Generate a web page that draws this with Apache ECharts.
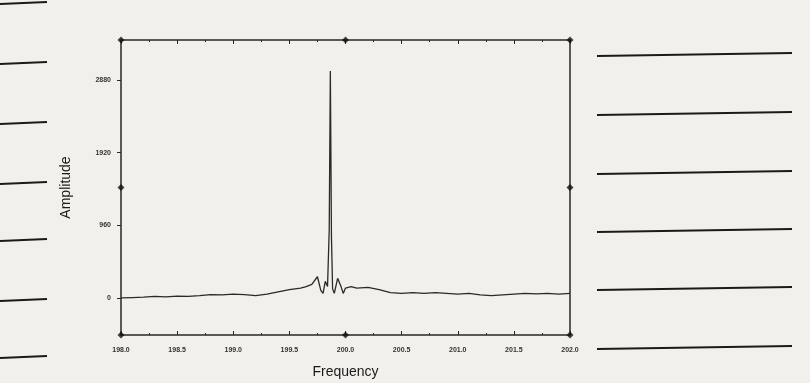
<!DOCTYPE html>
<html>
<head>
<meta charset="utf-8">
<script src="https://cdn.jsdelivr.net/npm/echarts@6/dist/echarts.min.js"></script>
<style>
html,body{margin:0;padding:0;background:#f1f0ed;}
#c{width:810px;height:383px;}
</style>
</head>
<body>
<div id="c"></div>
<script>
// ---- data ----
const frequency = [198.0,198.1,198.2,198.3,198.4,198.5,198.6,198.7,198.8,198.9,199.0,199.1,199.2,199.3,199.4,199.5,199.55,199.6,199.65,199.7,199.75,199.78,199.8,199.82,199.84,199.855,199.865,199.875,199.885,199.9,199.93,199.96,199.98,200.0,200.05,200.1,200.2,200.3,200.4,200.5,200.6,200.7,200.8,200.9,201.0,201.1,201.2,201.3,201.4,201.5,201.6,201.7,201.8,201.9,202.0];
const amplitude = [0,5,10,20,15,25,20,30,45,40,50,45,30,50,80,110,120,130,150,180,280,100,60,220,150,900,3000,800,120,60,260,150,60,130,150,130,140,110,70,60,70,60,70,60,50,60,40,30,40,50,60,55,60,50,60];
const xTicks = [198.0,198.5,199.0,199.5,200.0,200.5,201.0,201.5,202.0];
const yTicks = [0,960,1920,2880];
const xMin = 198, xMax = 202, yMin = -490, yMax = 3410;
const boxMarkers = [[xMin,yMin],[200,yMin],[xMax,yMin],[xMin,yMax],[200,yMax],[xMax,yMax],[xMin,(yMin+yMax)/2],[xMax,(yMin+yMax)/2]];

const chart = echarts.init(document.getElementById('c'));
const lineColor = '#2a2626';
const leftLines = [3,63,123,183,240,300,357];
const rightLines = [54,113,172,230,288,347];
const graphics = [];
leftLines.forEach(y => graphics.push({type:'line',shape:{x1:0,y1:y+1,x2:47,y2:y-1},style:{stroke:'#1a1a1a',lineWidth:2.2}}));
rightLines.forEach(y => graphics.push({type:'line',shape:{x1:597,y1:y+2,x2:792,y2:y-1},style:{stroke:'#1a1a1a',lineWidth:2.2}}));

chart.setOption({
  backgroundColor:'#f1f0ed',
  animation:false,
  graphic: graphics,
  grid:{left:121,right:240,top:40,bottom:48,outerBoundsMode:'none',containLabel:false},
  xAxis:[{
    type:'value',min:xMin,max:xMax,interval:0.5,
    name:'Frequency',nameLocation:'middle',nameGap:30,
    nameTextStyle:{fontFamily:'Liberation Sans',fontSize:14,color:'#1a1a1a'},
    axisLine:{show:true,onZero:false,lineStyle:{color:lineColor,width:1.5}},
    axisTick:{show:true,inside:true,length:4,lineStyle:{color:lineColor}},
    minorTick:{show:true,splitNumber:2,length:2,lineStyle:{color:lineColor}},
    axisLabel:{fontSize:7,fontWeight:'bold',color:'#333',margin:12,fontFamily:'Liberation Sans',formatter:v=>v.toFixed(1),customValues:xTicks},
    splitLine:{show:false}
  },{
    type:'value',min:xMin,max:xMax,interval:0.5,position:'top',
    axisLine:{show:true,onZero:false,lineStyle:{color:lineColor,width:1.5}},
    axisTick:{show:true,inside:true,length:4,lineStyle:{color:lineColor}},
    minorTick:{show:true,splitNumber:2,length:2,lineStyle:{color:lineColor}},
    axisLabel:{show:false},splitLine:{show:false}
  }],
  yAxis:[{
    type:'value',min:yMin,max:yMax,
    name:'Amplitude',nameLocation:'middle',nameGap:48,nameRotate:90,
    nameTextStyle:{fontFamily:'Liberation Sans',fontSize:14,color:'#1a1a1a'},
    axisLine:{show:true,onZero:false,lineStyle:{color:lineColor,width:1.5}},
    axisTick:{show:true,length:4,customValues:yTicks,lineStyle:{color:lineColor}},
    axisLabel:{fontSize:7,fontWeight:'bold',color:'#333',margin:10,fontFamily:'Liberation Sans',customValues:yTicks,formatter:v=>String(v)},
    splitLine:{show:false}
  },{
    type:'value',min:yMin,max:yMax,position:'right',
    axisLine:{show:true,onZero:false,lineStyle:{color:lineColor,width:1.5}},
    axisTick:{show:false},axisLabel:{show:false},splitLine:{show:false}
  }],
  series:[{
    type:'line',
    data:frequency.map((f,i)=>[f,amplitude[i]]),
    showSymbol:false,
    lineStyle:{color:'#2e2828',width:1.3},
    z:3
  },{
    type:'scatter',
    data:boxMarkers,
    symbol:'diamond',symbolSize:7,
    itemStyle:{color:'#111'},
    clip:false,
    z:5
  }]
});
</script>
</body>
</html>
